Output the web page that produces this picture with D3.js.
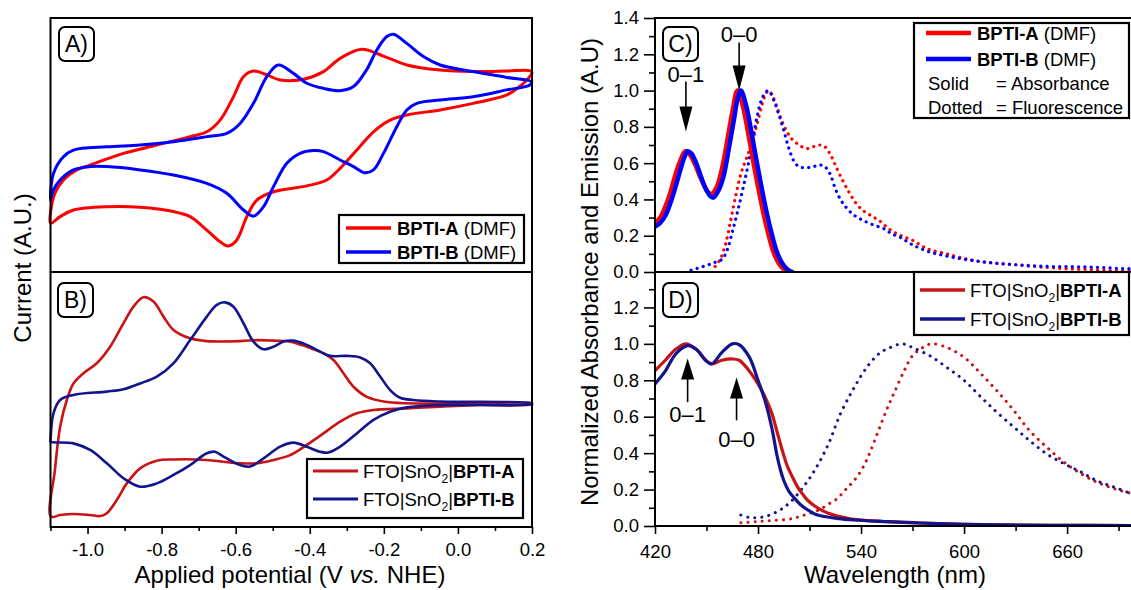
<!DOCTYPE html>
<html>
<head>
<meta charset="utf-8">
<script src="https://cdn.jsdelivr.net/npm/d3@7"></script>
<style>
body{margin:0;background:#fff}
svg{display:block}
</style>
</head>
<body>
<div id="chart"></div>
<script>
// ---- panel A : cyclic voltammograms in DMF (closed loops, current in A.U.)
const cvA_redE=[-1.100,-1.099,-1.088,-1.065,-1.029,-0.993,-0.903,-0.813,-0.723,-0.678,-0.642,-0.606,-0.579,-0.552,-0.516,-0.480,-0.417,-0.363,-0.318,-0.260,-0.201,-0.138,-0.048,0.041,0.132,0.194,0.200,
  0.186,0.168,0.132,0.041,-0.048,-0.138,-0.183,-0.228,-0.273,-0.318,-0.354,-0.408,-0.498,-0.543,-0.570,-0.597,-0.620,-0.642,-0.678,-0.723,-0.768,-0.858,-0.948,-1.038,-1.074,-1.100]
const cvA_redI=[1.92,2.44,3.10,3.62,4.02,4.21,4.67,5.00,5.33,5.52,5.98,6.90,7.69,7.91,7.76,7.56,7.59,7.89,8.41,8.77,8.50,8.15,7.95,7.89,7.91,7.93,7.85,
  7.56,7.32,6.97,6.64,6.38,6.18,5.98,5.52,4.80,4.08,3.62,3.39,3.16,2.83,2.18,1.26,1.02,1.19,1.65,2.18,2.38,2.55,2.57,2.44,2.18,1.92]
const cvA_blueE=[-1.100,-1.092,-1.065,-1.038,-0.948,-0.858,-0.768,-0.678,-0.624,-0.588,-0.552,-0.516,-0.485,-0.444,-0.408,-0.363,-0.318,-0.282,-0.247,-0.219,-0.192,-0.174,-0.138,-0.093,-0.048,0.041,0.132,0.199,
  0.194,0.132,0.041,-0.048,-0.111,-0.138,-0.165,-0.201,-0.228,-0.251,-0.282,-0.318,-0.363,-0.390,-0.426,-0.462,-0.498,-0.525,-0.552,-0.579,-0.624,-0.678,-0.768,-0.858,-0.948,-0.993,-1.038,-1.074,-1.092,-1.100]
const cvA_blueI=[2.83,3.88,4.54,4.80,4.93,5.00,5.13,5.33,5.46,5.85,6.64,7.69,8.15,7.82,7.43,7.23,7.14,7.30,7.95,8.74,9.27,9.36,9.00,8.48,8.15,7.89,7.66,7.49,
  7.36,7.17,6.90,6.77,6.64,6.38,5.72,4.67,4.02,3.91,4.15,4.41,4.74,4.78,4.67,4.28,3.36,2.57,2.20,2.44,3.10,3.49,3.82,4.02,4.15,4.15,4.02,3.62,3.23,2.83]

// ---- panel B : CVs of dyes on FTO|SnO2
const cvB_redE=[-1.099,-1.088,-1.074,-1.056,-1.038,-1.011,-0.975,-0.939,-0.903,-0.876,-0.849,-0.822,-0.795,-0.768,-0.723,-0.678,-0.588,-0.543,-0.498,-0.453,-0.408,-0.363,-0.336,-0.309,-0.282,-0.247,-0.201,-0.138,0.041,0.199,
  0.200,0.041,-0.048,-0.138,-0.228,-0.273,-0.318,-0.363,-0.408,-0.453,-0.498,-0.543,-0.588,-0.633,-0.678,-0.768,-0.813,-0.858,-0.894,-0.921,-0.948,-0.966,-0.993,-1.038,-1.074,-1.099]
const cvB_redI=[0.41,2.24,3.93,4.98,5.63,6.03,6.42,7.07,7.99,8.64,9.01,8.84,8.25,7.73,7.40,7.29,7.29,7.33,7.31,7.27,7.07,6.81,6.55,6.03,5.50,5.11,4.92,4.85,4.85,4.85,
  4.81,4.78,4.72,4.65,4.59,4.46,4.13,3.67,3.22,2.82,2.63,2.50,2.50,2.56,2.63,2.65,2.60,2.30,1.71,1.06,0.54,0.43,0.47,0.51,0.47,0.41]
const cvB_blueE=[-1.100,-1.092,-1.074,-1.038,-0.948,-0.903,-0.858,-0.813,-0.768,-0.723,-0.678,-0.651,-0.629,-0.606,-0.579,-0.552,-0.525,-0.498,-0.471,-0.444,-0.408,-0.372,-0.345,-0.300,-0.264,-0.237,-0.210,-0.183,-0.156,-0.120,-0.048,0.199,
  0.200,-0.048,-0.138,-0.183,-0.228,-0.273,-0.318,-0.350,-0.372,-0.408,-0.444,-0.480,-0.525,-0.561,-0.588,-0.633,-0.656,-0.678,-0.723,-0.768,-0.813,-0.858,-0.903,-0.948,-0.993,-1.038,-1.100]
const cvB_blueI=[3.41,4.46,4.98,5.18,5.31,5.40,5.63,5.90,6.42,7.33,8.25,8.71,8.81,8.64,7.99,7.27,6.97,7.07,7.27,7.31,7.14,6.88,6.71,6.71,6.65,6.42,5.90,5.37,5.07,4.98,4.92,4.85,
  4.82,4.78,4.69,4.52,4.20,3.67,3.15,2.92,2.95,3.15,3.31,3.15,2.69,2.37,2.43,2.76,2.95,2.89,2.43,2.04,1.71,1.58,1.91,2.50,3.02,3.28,3.35]
const cvTicks=[-1.0,-0.8,-0.6,-0.4,-0.2,0.0,0.2]
const cvMinor=[-1.1,-0.9,-0.7,-0.5,-0.3,-0.1,0.1]

// ---- panel C : absorbance / fluorescence in DMF
const absC_wlA=[420,423,426,429,432,435,437.5,440,443,446,449,451,453,456,459,462,465,468,471,474,477,480,483,486,489,492,495,498]
const absC_A=[.27,.30,.36,.44,.54,.62,.665,.65,.60,.53,.47,.44,.43,.47,.57,.72,.88,1.0,.92,.78,.62,.47,.33,.21,.11,.05,.015,0]
const absC_wlB=[420,423,426,429,432,435,437,439,441,444,447,450,452,454,457,460,463,466,468,470,473,476,479,482,485,488,491,494,497,500]
const absC_B=[.25,.27,.31,.38,.47,.57,.63,.665,.655,.60,.52,.45,.42,.41,.45,.53,.68,.84,.95,1.0,.92,.78,.62,.47,.33,.21,.11,.05,.015,0]
const fluC_wlA=[455,458,461,464,467,470,473,476,479,482,484,486,488,491,494,497,500,504,508,512,516,519,522,525,529,533,537,541,546,551,556,561,566,571,576,581,590,600,610,620,630,640,650,660,670,680,690,700]
const fluC_A=[.03,.07,.15,.28,.42,.54,.62,.70,.80,.91,.97,1.0,.98,.91,.83,.77,.73,.70,.68,.69,.70,.69,.65,.59,.51,.44,.38,.34,.31,.28,.24,.21,.19,.17,.14,.12,.10,.075,.057,.047,.04,.03,.024,.018,.015,.01,.007,.005]
const fluC_wlB=[441,448,454,459,462,465,468,471,474,477,480,483,486,489,492,495,498,501,504,508,512,516,519,522,525,528,531,535,540,547,553,558,563,570,580,590,600,610,620,630,640,650,660,670,680,690,700]
const fluC_B=[.01,.03,.05,.07,.12,.22,.33,.45,.58,.73,.88,.97,1.0,.95,.87,.78,.68,.61,.58,.575,.58,.59,.58,.54,.46,.40,.36,.32,.29,.26,.24,.21,.19,.15,.11,.088,.07,.057,.047,.04,.035,.03,.03,.028,.025,.02,.018]

// ---- panel D : films on FTO|SnO2
const absD_wlA=[420,426,432,438,444,449.5,453,459,465,469,475,480,484,488,491,494,497,500,503,506,509,513,517,521,526,531,536,545,555,570,585,600,620,650,700]
const absD_A=[.853,.91,.97,1.0,.97,.91,.89,.91,.917,.91,.85,.78,.71,.62,.52,.42,.33,.27,.215,.175,.14,.11,.0875,.07,.055,.045,.036,.029,.024,.018,.013,.009,.006,.004,.002]
const absD_wlB=[420,426,432,439,444,449.5,453,459,465,469,475,480,484,488,491,493,495,498,501,505,509,513,517,526,536,555,570,585,600,620,650,700]
const absD_B=[.78,.85,.944,.99,.97,.91,.89,.953,1.0,.995,.926,.80,.69,.54,.39,.31,.25,.19,.155,.115,.088,.066,.055,.042,.033,.024,.018,.013,.009,.006,.004,.002]
const fluD_wlA=[470,479,488,497,503,507,512,516,521,526,531,536,541,545,550,555,559,565,570,576,581,590,600,609,619,629,638,648,658,668,677,687,697,702]
const fluD_A=[.018,.024,.03,.036,.048,.06,.075,.09,.12,.15,.20,.25,.32,.40,.52,.64,.725,.85,.935,.98,1.0,.98,.926,.844,.744,.634,.525,.434,.352,.288,.242,.206,.18,.17]
const fluD_wlB=[470,475,483,491,498,505,513,521,528,536,544,551,557,564,570,580,590,600,609,619,629,638,648,658,668,677,687,697,702]
const fluD_B=[.06,.047,.05,.078,.124,.197,.306,.45,.616,.76,.88,.95,.98,1.0,.98,.935,.87,.80,.716,.625,.543,.47,.397,.343,.297,.25,.215,.18,.17]

const wlTicks=[420,480,540,600,660]
const wlMinor=[450,510,570,630,690]
const absTicksC=[0,0.2,0.4,0.6,0.8,1.0,1.2,1.4]
const absTicksD=[0,0.2,0.4,0.6,0.8,1.0,1.2]
const absMinor=[0.1,0.3,0.5,0.7,0.9,1.1,1.3]

// vibronic annotations (wavelength, arrow tip, arrow tail, label position)
const annC_label=["0\u20131","0\u20130"], annC_wl=[438,469], annC_tip=[0.775,1.0], annC_tail=[1.05,1.265], annC_text=[1.09,1.31]
const annD_label=["0\u20131","0\u20130"], annD_wl=[439,467.5], annD_tip=[0.92,0.815], annD_tail=[0.68,0.58], annD_text=[0.615,0.475]

const FONT='Arial, "Liberation Sans", sans-serif'
const RED="#ff0000", BLUE="#0000ff", DRED="#c81414", NAVY="#14148c"

const svg=d3.select("#chart").append("svg").attr("width",1131).attr("height",590)
  .attr("font-family",FONT)
svg.append("rect").attr("width",1131).attr("height",590).attr("fill","#fff")

// scales
const xCV=d3.scaleLinear().domain([-1.1,0.2]).range([50.5,532])
const yA=d3.scaleLinear().domain([0,10]).range([272,18])
const yB=d3.scaleLinear().domain([0,10]).range([527,272])
const xWL=d3.scaleLinear().domain([420,700]).range([655,655+280*1.717])
const yC=d3.scaleLinear().domain([0,1.4]).range([272,18])
const yD=d3.scaleLinear().domain([0,1.4]).range([526,271])

const defs=svg.append("defs")
defs.append("clipPath").attr("id","clipC").append("rect").attr("x",656).attr("y",0).attr("width",480).attr("height",272)
defs.append("clipPath").attr("id","clipD").append("rect").attr("x",656).attr("y",272).attr("width",480).attr("height",254)

function drawCurve(g,xs,ys,xv,yv,color,width,dash,closed){
  let pts=d3.zip(xv,yv)
  let curve=closed ? d3.curveCatmullRomClosed.alpha(0.5) : d3.curveCatmullRom.alpha(0.5)
  let line=d3.line().x(d=>xs(d[0])).y(d=>ys(d[1])).curve(curve)
  let p=g.append("path").attr("d",line(pts)).attr("fill","none").attr("stroke",color)
    .attr("stroke-width",width).attr("stroke-linejoin","round").attr("stroke-linecap","round")
  if(dash) p.attr("stroke-dasharray",dash)
  return p
}

// ---- curves
const gA=svg.append("g")
drawCurve(gA,xCV,yA,cvA_redE.slice(0,-1),cvA_redI.slice(0,-1),RED,3,null,true)
drawCurve(gA,xCV,yA,cvA_blueE.slice(0,-1),cvA_blueI.slice(0,-1),BLUE,3,null,true)
const gB=svg.append("g")
drawCurve(gB,xCV,yB,cvB_redE.slice(0,-1),cvB_redI.slice(0,-1),DRED,2.6,null,true)
drawCurve(gB,xCV,yB,cvB_blueE,cvB_blueI,NAVY,2.6,null,true)

const gC=svg.append("g").attr("clip-path","url(#clipC)")
drawCurve(gC,xWL,yC,fluC_wlA,fluC_A,RED,3.2,"0.1 6.2")
drawCurve(gC,xWL,yC,fluC_wlB,fluC_B,BLUE,3.2,"0.1 6.2")
drawCurve(gC,xWL,yC,absC_wlA,absC_A,RED,4.5)
drawCurve(gC,xWL,yC,absC_wlB,absC_B,BLUE,4.5)

const gD=svg.append("g").attr("clip-path","url(#clipD)")
drawCurve(gD,xWL,yD,fluD_wlA,fluD_A,DRED,3,"0.1 7")
drawCurve(gD,xWL,yD,fluD_wlB,fluD_B,NAVY,3,"0.1 7")
drawCurve(gD,xWL,yD,absD_wlA,absD_A,DRED,3.2)
drawCurve(gD,xWL,yD,absD_wlB,absD_B,NAVY,3.2)

// ---- frames
function frame(x0,y0,x1,y1){
  svg.append("rect").attr("x",x0).attr("y",y0).attr("width",x1-x0).attr("height",y1-y0)
    .attr("fill","none").attr("stroke","#000").attr("stroke-width",2)
}
frame(50.5,18,532,272)
frame(50.5,272,532,527)
frame(655,18,1140,272)
frame(655,272,1140,526)

// ---- axes
function styleAxis(g,fs){
  g.attr("font-family",FONT).attr("font-size",fs)
  g.select(".domain").remove()
  g.selectAll(".tick line").attr("stroke","#000").attr("stroke-width",1.6)
  g.selectAll(".tick text").attr("fill","#000")
}
styleAxis(svg.append("g").attr("transform","translate(0,527)")
  .call(d3.axisBottom(xCV).tickValues(cvTicks).tickFormat(d=>d.toFixed(1)).tickSize(7).tickPadding(9)),18.5)
styleAxis(svg.append("g").attr("transform","translate(0,527)")
  .call(d3.axisBottom(xCV).tickValues(cvMinor).tickFormat("").tickSize(4)),18.5)

styleAxis(svg.append("g").attr("transform","translate(0,526)")
  .call(d3.axisBottom(xWL).tickValues(wlTicks).tickSize(8).tickPadding(11)),18.5)
styleAxis(svg.append("g").attr("transform","translate(0,526)")
  .call(d3.axisBottom(xWL).tickValues(wlMinor).tickFormat("").tickSize(5)),18.5)

styleAxis(svg.append("g").attr("transform","translate(655,0)")
  .call(d3.axisLeft(yC).tickValues(absTicksC).tickFormat(d=>d.toFixed(1)).tickSize(11).tickPadding(5)),18.5)
styleAxis(svg.append("g").attr("transform","translate(655,0)")
  .call(d3.axisLeft(yC).tickValues(absMinor).tickFormat("").tickSize(6)),18.5)
styleAxis(svg.append("g").attr("transform","translate(655,0)")
  .call(d3.axisLeft(yD).tickValues(absTicksD).tickFormat(d=>d.toFixed(1)).tickSize(11).tickPadding(5)),18.5)
styleAxis(svg.append("g").attr("transform","translate(655,0)")
  .call(d3.axisLeft(yD).tickValues(absMinor).tickFormat("").tickSize(6)),18.5)

// ---- axis titles
let xt=svg.append("text").attr("x",290).attr("y",583).attr("text-anchor","middle").attr("font-size",24)
xt.append("tspan").text("Applied potential (V ")
xt.append("tspan").attr("font-style","italic").text("vs.")
xt.append("tspan").text(" NHE)")
svg.append("text").attr("x",895).attr("y",583).attr("text-anchor","middle").attr("font-size",24).text("Wavelength (nm)")
svg.append("text").attr("transform","translate(31,268) rotate(-90)").attr("text-anchor","middle").attr("font-size",24).text("Current (A.U.)")
svg.append("text").attr("transform","translate(598,272) rotate(-90)").attr("text-anchor","middle").attr("font-size",24)
  .text("Normalized Absorbance and Emission (A.U)")

// ---- panel labels
function panelLabel(x,y,t){
  svg.append("rect").attr("x",x).attr("y",y).attr("width",35).attr("height",34).attr("rx",6)
    .attr("fill","#fff").attr("stroke","#000").attr("stroke-width",2)
  svg.append("text").attr("x",x+17.5).attr("y",y+25).attr("text-anchor","middle").attr("font-size",23).text(t)
}
panelLabel(59,27,"A)")
panelLabel(58,283,"B)")
panelLabel(663,27,"C)")
panelLabel(663,283,"D)")

// ---- arrows
function arrows(ys,labels,wl,tip,tail,txt,headLen){
  labels.forEach((lab,i)=>{
    let x=xWL(wl[i]), yt=ys(tip[i]), yb=ys(tail[i])
    let dir=yt>yb ? 1 : -1
    svg.append("line").attr("x1",x).attr("x2",x).attr("y1",yb).attr("y2",yt-dir*headLen*0.6)
      .attr("stroke","#000").attr("stroke-width",1.6)
    svg.append("path").attr("d",`M${x},${yt} L${x-6.5},${yt-dir*headLen} L${x+6.5},${yt-dir*headLen} Z`).attr("fill","#000")
    svg.append("text").attr("x",x).attr("y",ys(txt[i])).attr("dy","0.35em").attr("text-anchor","middle")
      .attr("font-size",22).text(lab)
  })
}
arrows(yC,annC_label,annC_wl,annC_tip,annC_tail,annC_text,25)
arrows(yD,annD_label,annD_wl,annD_tip,annD_tail,annD_text,21)

// ---- legends
function legend(box,lineX,textX,rows){
  svg.append("rect").attr("x",box[0]).attr("y",box[1]).attr("width",box[2]-box[0]).attr("height",box[3]-box[1])
    .attr("fill","#fff").attr("stroke","#000").attr("stroke-width",2.2)
  rows.forEach(r=>{
    if(r.color) svg.append("line").attr("x1",lineX[0]).attr("x2",lineX[1]).attr("y1",r.y).attr("y2",r.y)
      .attr("stroke",r.color).attr("stroke-width",r.w||3.5)
    let t=svg.append("text").attr("x",r.x||textX).attr("y",r.y+6.5).attr("font-size",18.5)
    r.parts.forEach(p=>{
      let s=t.append("tspan").text(p.t)
      if(p.b) s.attr("font-weight","bold")
      if(p.sub) s.attr("font-size",12).attr("dy",5)
      if(p.up) s.attr("dy",-5)
      if(p.x) s.attr("x",p.x)
    })
  })
}
legend([339,215,524,263],[346,391],397,[
  {y:228,color:RED,parts:[{t:"BPTI-A",b:1},{t:" (DMF)"}]},
  {y:252,color:BLUE,parts:[{t:"BPTI-B",b:1},{t:" (DMF)"}]}])
const fto=(s)=>[{t:"FTO|SnO"},{t:"2",sub:1},{t:"|",up:1},{t:s,b:1}]
legend([307,459,523,518],[313,358],363,[
  {y:471,color:DRED,w:3,parts:fto("BPTI-A")},
  {y:499,color:NAVY,w:3,parts:fto("BPTI-B")}])
legend([914,23,1129,118],[926,971],977,[
  {y:33,color:RED,w:4.5,parts:[{t:"BPTI-A",b:1},{t:" (DMF)"}]},
  {y:59,color:BLUE,w:4.5,parts:[{t:"BPTI-B",b:1},{t:" (DMF)"}]},
  {y:83,x:928,parts:[{t:"Solid"},{t:"= Absorbance",x:996}]},
  {y:107,x:928,parts:[{t:"Dotted"},{t:"= Fluorescence",x:996}]}])
legend([914,272,1129,335],[920,965],970,[
  {y:290,color:DRED,w:3.5,parts:fto("BPTI-A")},
  {y:319,color:NAVY,w:3.5,parts:fto("BPTI-B")}])
</script>
</body>
</html>
